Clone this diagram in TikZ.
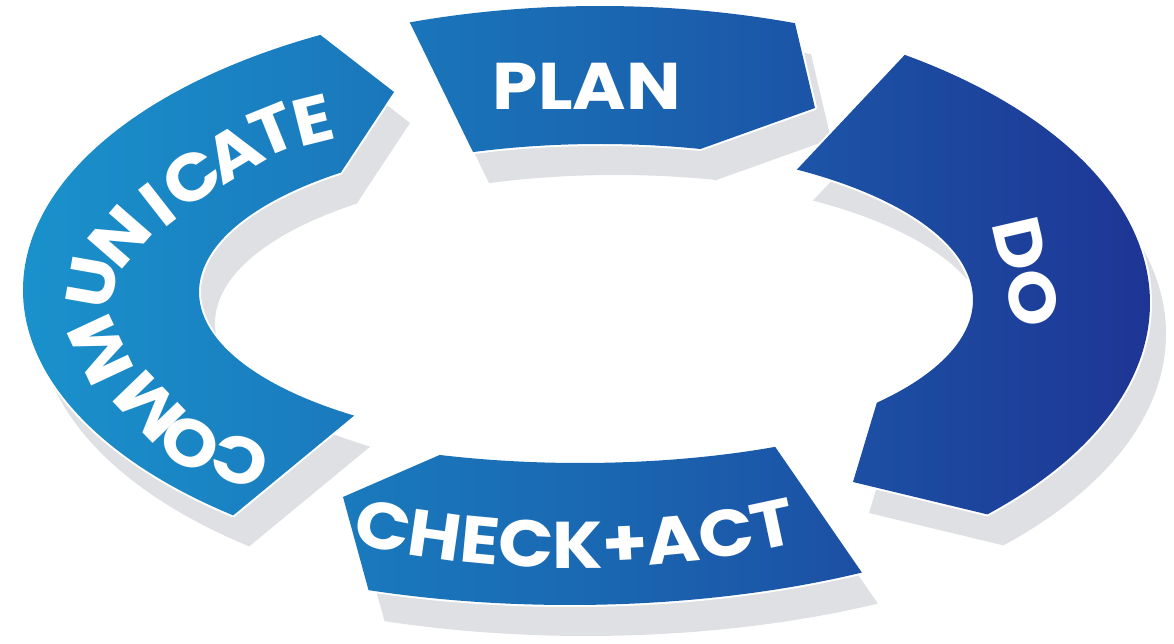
\documentclass[tikz,border=0pt]{standalone}
\usepackage{fontspec}
\setmainfont{Poppins}[FakeStretch=1.1]
\usetikzlibrary{decorations.text}

\definecolor{ringcyan}{RGB}{26,146,204}
\definecolor{ringmid}{RGB}{26,104,178}
\definecolor{ringnavy}{RGB}{30,52,148}
\definecolor{shadowgray}{RGB}{223,224,227}

\newcommand{\lblfont}{\fontsize{66}{66}\selectfont\bfseries}

% Outlines of the four segments (1pt = 1px, y up)
\newcommand{\CommPath}{({590+567*cos(231)},{353+290*sin(231)})
    arc[start angle=231, end angle=118.4, x radius=567pt, y radius=290pt]
    -- (394,551)
    -- ({590+391*cos(129.6)},{351+155*sin(129.6)})
    arc[start angle=129.6, end angle=232.9, x radius=391pt, y radius=155pt] -- cycle}
\newcommand{\PlanPath}{({600+570*cos(109.5)},{352+285*sin(109.5)})
    arc[start angle=109.5, end angle=70, x radius=570pt, y radius=285pt]
    -- (815,535)
    -- ({600+388*cos(75)},{352+147*sin(75)})
    arc[start angle=75, end angle=109.1, x radius=388pt, y radius=147pt] -- cycle}
\newcommand{\DoPath}{({590+560*cos(55.8)},{340+300*sin(55.8)})
    arc[start angle=55.8, end angle=-44.8, x radius=560pt, y radius=300pt]
    -- (853,161)
    -- ({590+383*cos(-41.5)},{343+155*sin(-41.5)})
    arc[start angle=-41.5, end angle=57.3, x radius=383pt, y radius=155pt] -- cycle}
\newcommand{\CheckPath}{({570+570*cos(-59.2)},{268+230*sin(-59.2)})
    arc[start angle=-59.2, end angle=-110.7, x radius=570pt, y radius=230pt]
    -- (343,146)
    -- ({580+388*cos(-111.2)},{299+119*sin(-111.2)})
    arc[start angle=-111.2, end angle=-59.8, x radius=388pt, y radius=119pt] -- cycle}

\begin{document}
\begin{tikzpicture}[x=1pt, y=1pt,
    shadow/.style={fill=shadowgray},
    halo/.style={draw=white, line width=4pt, line join=round},
    lbl/.style={text=white, font=\lblfont, inner sep=0pt}]
    \useasboundingbox (0,0) rectangle (1174,643);
    \fill[white] (0,0) rectangle (1174,643);

    % Add the shadows
    \fill[shadow, shift={(16,-31)}] \CommPath \PlanPath \DoPath \CheckPath;
    \draw[halo] \CommPath \PlanPath \DoPath \CheckPath;

    % Add the segments
    \begin{scope}
        \clip \CommPath \PlanPath \DoPath \CheckPath;
        \shade[left color=ringcyan,
               right color=ringnavy,
               middle color=ringmid] (20,0) rectangle (1160,643);
    \end{scope}

    % Add the labels
    \node[lbl] (plan) at (587,557) {PLAN};
    \node[lbl, rotate=-77] (do) at (1027,371) {DO};
    \foreach \ch/\x/\y/\r [count=\i] in {C/240/183/161, O/190/200/150,
            M/150/236/134, M/100/293/115, U/92/361/80, N/120/406/49,
            I/158/438/38, C/192/465/35, A/233/490/31, T/273/513/22, E/313/523/14}
        \node[lbl, rotate=\r] (comm\i) at (\x,\y) {\ch};
    \path[decorate,
          decoration={text along path,
                      text align=center,
                      text color=white,
                      text={|\lblfont|CHECK+ACT}}]
        ({575+480*cos(-130)},{295+220*sin(-130)})
        arc[start angle=-130, end angle=-50, x radius=480pt, y radius=220pt];
\end{tikzpicture}
\end{document}
